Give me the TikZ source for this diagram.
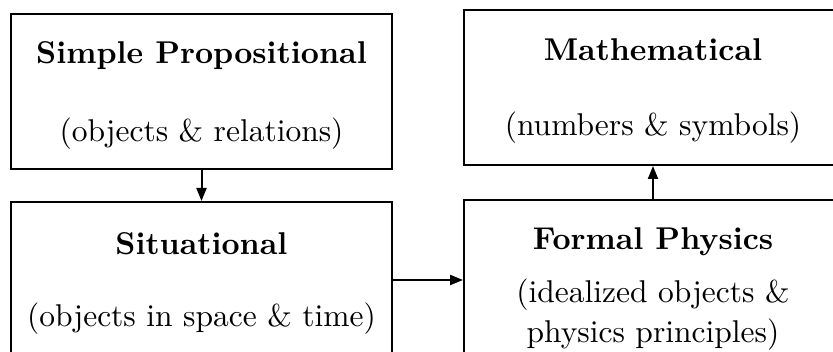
\documentclass[tikz,border=0pt]{standalone}
\usepackage{fontspec}
\setmainfont{lmroman10-regular.otf}[BoldFont=lmroman10-bold.otf]
\usetikzlibrary{positioning,arrows.meta}

\tikzset{
  level/.style={draw, rectangle, line width=2pt, align=center, text depth=0pt,
    font=\fontsize{31.5}{40}\selectfont},
  leftlevel/.style={level, minimum width=381pt},
  rightlevel/.style={level, minimum width=378pt},
  link/.style={line width=2pt, -{Triangle[length=13pt,width=10pt]}}
}

\begin{document}
\begin{tikzpicture}[x=1pt,y=-1pt]
  \useasboundingbox (0,0) rectangle (833,352);
  \clip (0,0) rectangle (833,352);
  \node [leftlevel, minimum height=155pt] (simp) at (201.5,91.5)
    {\textbf{Simple Propositional}\\[38pt](objects \& relations)};
  \node [leftlevel, minimum height=156pt, below=31pt of simp] (sit)
    {\textbf{Situational}\\[32pt](objects in space \& time)};
  \node [rightlevel, minimum height=155pt] (math) at (653,87.5)
    {\textbf{Mathematical}\\[35pt](numbers \& symbols)};
  \node [rightlevel, minimum height=171pt, below=33pt of math] (phys)
    {\textbf{Formal Physics}\\[13pt](idealized objects \&\\physics principles)};
  \path
    (simp) edge [link] (sit)
    (phys) edge [link] (math)
    (sit.east) edge [link] (sit.east -| phys.west);
\end{tikzpicture}
\end{document}
